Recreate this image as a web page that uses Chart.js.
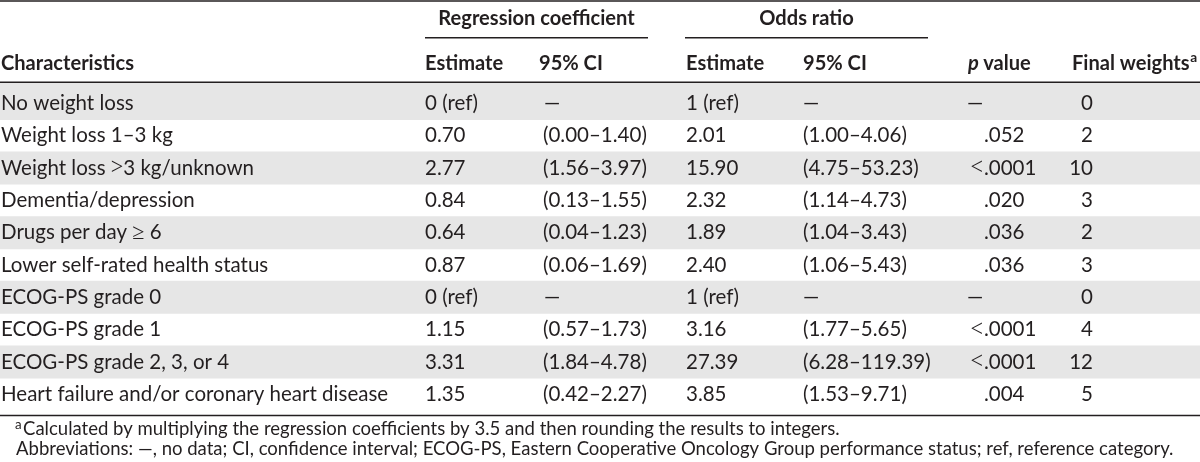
<!DOCTYPE html>
<html>
<head>
<meta charset="utf-8">
<script src="https://cdn.jsdelivr.net/npm/chart.js@4.4.1/dist/chart.umd.min.js"></script>
<style>
html,body{margin:0;padding:0;background:#ffffff;overflow:hidden}
#wrap{width:1200px;height:462px;position:relative}
</style>
</head>
<body>
<div id="wrap"><canvas id="c" width="1200" height="462"></canvas></div>
<script>
// ---------- table content ----------
const groupHeaders = ["Regression coefficient", "Odds ratio"];
const columnHeaders = ["Characteristics", "Estimate", "95% CI", "Estimate", "95% CI", "p value", "Final weights"];
const characteristics = [
  "No weight loss",
  "Weight loss 1\u20133 kg",
  "Weight loss >3 kg/unknown",
  "Dementia/depression",
  "Drugs per day \u2265 6",
  "Lower self-rated health status",
  "ECOG-PS grade 0",
  "ECOG-PS grade 1",
  "ECOG-PS grade 2, 3, or 4",
  "Heart failure and/or coronary heart disease"
];
const regEstimate = ["0 (ref)", "0.70", "2.77", "0.84", "0.64", "0.87", "0 (ref)", "1.15", "3.31", "1.35"];
const regCI = ["\u2014", "(0.00\u20131.40)", "(1.56\u20133.97)", "(0.13\u20131.55)", "(0.04\u20131.23)", "(0.06\u20131.69)", "\u2014", "(0.57\u20131.73)", "(1.84\u20134.78)", "(0.42\u20132.27)"];
const orEstimate = ["1 (ref)", "2.01", "15.90", "2.32", "1.89", "2.40", "1 (ref)", "3.16", "27.39", "3.85"];
const orCI = ["\u2014", "(1.00\u20134.06)", "(4.75\u201353.23)", "(1.14\u20134.73)", "(1.04\u20133.43)", "(1.06\u20135.43)", "\u2014", "(1.77\u20135.65)", "(6.28\u2013119.39)", "(1.53\u20139.71)"];
const pValues = ["\u2014", ".052", "<.0001", ".020", ".036", ".036", "\u2014", "<.0001", "<.0001", ".004"];
const finalWeights = ["0", "2", "10", "3", "2", "3", "0", "4", "12", "5"];
const footnoteA = "Calculated by multiplying the regression coefficients by 3.5 and then rounding the results to integers.";
const footnoteAbbr = "Abbreviations: \u2014, no data; CI, confidence interval; ECOG-PS, Eastern Cooperative Oncology Group performance status; ref, reference category.";
const shadedRows = [0, 2, 4, 6, 8];

// ---------- layout (row units on y, pixel-like units on x) ----------
const ROW_PX = 32.3, ROW0_PX = 103.5, H = 462, W = 1200;
const yv = p => (p - ROW0_PX) / ROW_PX;          // convert a layout pixel to row units
const Y_TOP_RULE = yv(1), Y_GROUP_TEXT = yv(19), Y_GROUP_RULE = yv(37.8);
const Y_HEAD_TEXT = yv(64), Y_HEAD_RULE = yv(82.3), Y_BOTTOM_RULE = yv(415.6);
const Y_FN1 = yv(429.5), Y_FN2 = yv(449);
const COLS = {name: 1, regEst: 425, regCIh: 539, regCI: 543, orEst: 686, orCI: 803, pHead: 968, pDash: 967, pDot: 984, fwHead: 1072, fwRight: 1093};
const INK = "#231f20", BAND = "#e6e6e6";

const bandData = shadedRows.map(r => ({x: W / 2, y: [r === 0 ? Y_HEAD_RULE + 0.02 : r - 0.5, r + 0.5]}));
const rule = (v, x0, x1) => [{x: x0, y: v}, {x: x1, y: v}];

const FONT = "Lato";
const MATH = "'Liberation Serif'";
const MATH_CHARS = /[<>\u2265]/;

const tablePlugin = {
  id: "tableText",
  afterDatasetsDraw(chart) {
    const {ctx} = chart;
    const xs = chart.scales.x, ys = chart.scales.y;
    const X = v => xs.getPixelForValue(v), Y = v => ys.getPixelForValue(v);
    const fit = (str, weight, target) => { ctx.font = weight + " 20px " + FONT; return 20 * target / ctx.measureText(str).width; };
    const body = fit(characteristics[9], "400", 387);
    const bold = fit(columnHeaders[0], "700", 133);
    const foot = fit(footnoteAbbr, "400", 1158);
    const fb = s => "400 " + s.toFixed(2) + "px " + FONT;
    const fB = s => "700 " + s.toFixed(2) + "px " + FONT;
    const fM = s => "400 " + (s * 1.08).toFixed(2) + "px " + MATH;
    ctx.save();
    ctx.fillStyle = INK;
    ctx.textBaseline = "middle";
    const txt = (s, x, y, align, font) => { ctx.font = font; ctx.textAlign = align; ctx.fillText(s, x, y); };
    // left-aligned text where relation signs are set in a math-like serif face
    const rich = (s, x, y, size) => {
      ctx.textAlign = "left";
      let cx = x, buf = "";
      const flush = () => { if (buf) { ctx.font = fb(size); ctx.fillText(buf, cx, y); cx += ctx.measureText(buf).width; buf = ""; } };
      for (const ch of s) {
        if (MATH_CHARS.test(ch)) {
          flush();
          ctx.font = fM(size);
          ctx.fillText(ch, cx, y + 0.5);
          cx += ctx.measureText(ch).width;
        } else buf += ch;
      }
      flush();
    };

    // group headers
    txt(groupHeaders[0], X(536.5), Y(Y_GROUP_TEXT), "center", fB(bold));
    txt(groupHeaders[1], X(806.5), Y(Y_GROUP_TEXT), "center", fB(bold));
    // column headers
    const hy = Y(Y_HEAD_TEXT);
    txt(columnHeaders[0], X(COLS.name), hy, "left", fB(bold));
    txt(columnHeaders[1], X(COLS.regEst), hy, "left", fB(bold));
    txt(columnHeaders[2], X(COLS.regCIh), hy, "left", fB(bold));
    txt(columnHeaders[3], X(COLS.orEst), hy, "left", fB(bold));
    txt(columnHeaders[4], X(COLS.orCI), hy, "left", fB(bold));
    // "p value" with italic p
    ctx.font = "italic 700 " + bold.toFixed(2) + "px " + FONT;
    ctx.textAlign = "left";
    ctx.fillText("p", X(COLS.pHead), hy);
    const pw = ctx.measureText("p ").width;
    txt(columnHeaders[5].slice(2), X(COLS.pHead) + pw, hy, "left", fB(bold));
    // Final weights + superscript a
    txt(columnHeaders[6], X(COLS.fwHead), hy, "left", fB(bold));
    ctx.font = fB(bold);
    const fwW = ctx.measureText(columnHeaders[6]).width;
    txt("a", X(COLS.fwHead) + fwW + 0.5, hy - 6, "left", fB(bold * 0.68));

    // body rows
    for (let r = 0; r < characteristics.length; r++) {
      const y = Y(r);
      rich(characteristics[r], X(COLS.name), y, body);
      txt(regEstimate[r], X(COLS.regEst), y, "left", fb(body));
      txt(regCI[r], X(regCI[r] === "\u2014" ? COLS.regCI + 1 : COLS.regCI), y, "left", fb(body));
      txt(orEstimate[r], X(COLS.orEst), y, "left", fb(body));
      txt(orCI[r], X(COLS.orCI), y, "left", fb(body));
      const p = pValues[r];
      if (p === "\u2014") {
        txt(p, X(COLS.pDash), y, "left", fb(body));
      } else if (p.startsWith("<")) {
        txt("<", X(COLS.pDot) - 1, y + 0.5, "right", fM(body));
        txt(p.slice(1), X(COLS.pDot), y, "left", fb(body));
      } else {
        txt(p, X(COLS.pDot), y, "left", fb(body));
      }
      txt(finalWeights[r], X(COLS.fwRight), y, "right", fb(body));
    }

    // footnotes
    txt("a", X(15), Y(Y_FN1) - 5, "left", fb(foot * 0.72));
    txt(footnoteA, X(23), Y(Y_FN1), "left", fb(foot));
    txt(footnoteAbbr, X(16), Y(Y_FN2), "left", fb(foot));
    ctx.restore();
  }
};

const lineDs = (data) => ({
  type: "line", data, borderColor: INK, borderWidth: 1.5, pointRadius: 0,
  fill: false, tension: 0, order: 1
});

new Chart(document.getElementById("c"), {
  type: "scatter",
  data: {
    datasets: [
      {type: "bar", data: bandData, backgroundColor: BAND, borderWidth: 0, barThickness: W, order: 2, grouped: true},
      lineDs(rule(Y_TOP_RULE, 0, W)),
      lineDs(rule(Y_GROUP_RULE, 425, 648)),
      lineDs(rule(Y_GROUP_RULE, 685, 928)),
      lineDs(rule(Y_HEAD_RULE, 0, W)),
      lineDs(rule(Y_BOTTOM_RULE, 0, W))
    ]
  },
  options: {
    responsive: false,
    devicePixelRatio: 1,
    animation: false,
    events: [],
    layout: {padding: 0},
    plugins: {legend: {display: false}, tooltip: {enabled: false}},
    scales: {
      x: {type: "linear", display: false, min: 0, max: W, offset: false},
      y: {type: "linear", display: false, reverse: true, min: yv(0), max: yv(H), offset: false}
    }
  },
  plugins: [tablePlugin]
});
</script>
</body>
</html>
